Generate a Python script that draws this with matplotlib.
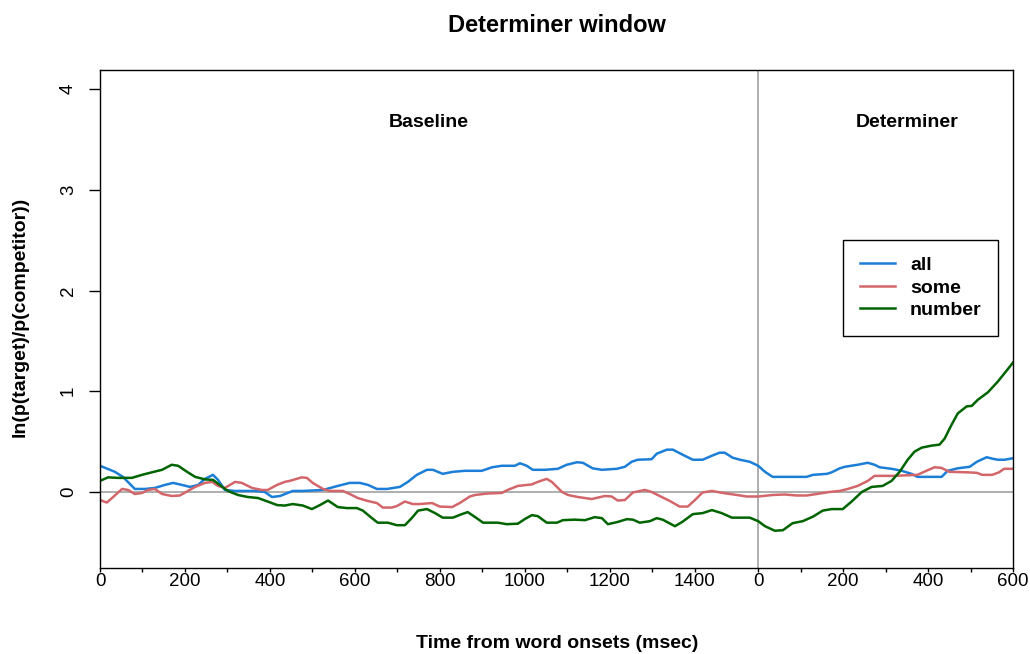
import matplotlib
matplotlib.use("Agg")
import matplotlib.pyplot as plt
import numpy as np

plt.rcParams["font.family"] = ["Liberation Sans", "DejaVu Sans"]

# Length of the baseline window (ms); the determiner window is drawn after it
BASELINE_LEN = 1550
DETERMINER_LEN = 600

# ---- "all" ----
all_base_t = [0, 35, 54, 82, 106, 129, 153, 172, 193, 212, 231, 247, 266, 278, 294, 318,
              365, 388, 405, 424, 454, 478, 525, 560, 588, 612, 631, 652, 676, 706, 725,
              746, 770, 784, 807, 831, 859, 899, 923, 946, 977, 989, 1005, 1019, 1048,
              1078, 1099, 1123, 1137, 1160, 1182, 1217, 1236, 1252, 1266, 1299, 1311,
              1335, 1349, 1372, 1396, 1419, 1441, 1459, 1471, 1490, 1507, 1530, 1550]
all_base_v = [0.26, 0.20, 0.15, 0.03, 0.03, 0.04, 0.07, 0.09, 0.07, 0.05, 0.07, 0.13, 0.17,
              0.12, 0.02, 0.01, 0.01, 0.00, -0.05, -0.04, 0.01, 0.01, 0.02, 0.06, 0.09,
              0.09, 0.07, 0.03, 0.03, 0.05, 0.10, 0.17, 0.22, 0.22, 0.18, 0.20, 0.21,
              0.21, 0.245, 0.26, 0.26, 0.285, 0.26, 0.22, 0.22, 0.23, 0.27, 0.295, 0.29,
              0.235, 0.22, 0.23, 0.25, 0.30, 0.32, 0.325, 0.38, 0.42, 0.42, 0.37, 0.32,
              0.32, 0.36, 0.39, 0.39, 0.34, 0.32, 0.30, 0.26]
all_det_t = [0, 16, 34, 58, 114, 129, 162, 173, 192, 204, 234, 258, 274, 286, 314, 338,
             361, 375, 432, 446, 470, 498, 515, 538, 552, 564, 580, 600]
all_det_v = [0.26, 0.20, 0.15, 0.15, 0.15, 0.17, 0.18, 0.195, 0.235, 0.25, 0.27, 0.29,
             0.27, 0.245, 0.23, 0.21, 0.18, 0.15, 0.15, 0.21, 0.235, 0.25, 0.30, 0.345,
             0.33, 0.32, 0.32, 0.335]

# ---- "some" ----
some_base_t = [0, 16, 31, 52, 66, 82, 99, 113, 129, 146, 169, 188, 207, 224, 247, 264,
               278, 294, 318, 334, 358, 381, 395, 417, 435, 447, 475, 487, 501, 525, 541,
               572, 588, 607, 631, 652, 666, 687, 699, 718, 737, 753, 782, 800, 829, 847,
               871, 883, 913, 946, 960, 984, 1017, 1031, 1052, 1064, 1088, 1102, 1125,
               1158, 1189, 1205, 1219, 1236, 1255, 1283, 1299, 1318, 1342, 1365, 1384,
               1401, 1419, 1441, 1467, 1500, 1523, 1550]
some_base_v = [-0.08, -0.105, -0.05, 0.03, 0.02, -0.02, -0.01, 0.02, 0.03, -0.02, -0.04,
               -0.035, 0.01, 0.05, 0.09, 0.10, 0.06, 0.04, 0.10, 0.09, 0.04, 0.02, 0.02,
               0.07, 0.10, 0.11, 0.145, 0.14, 0.09, 0.03, 0.01, 0.01, -0.02, -0.06, -0.09,
               -0.11, -0.155, -0.155, -0.14, -0.095, -0.12, -0.12, -0.11, -0.145, -0.15,
               -0.11, -0.045, -0.03, -0.015, -0.01, 0.02, 0.06, 0.075, 0.10, 0.13, 0.10,
               0.00, -0.03, -0.05, -0.07, -0.04, -0.045, -0.085, -0.08, -0.005, 0.02,
               0.00, -0.04, -0.09, -0.145, -0.145, -0.08, -0.005, 0.01, -0.01, -0.03,
               -0.045, -0.045]
some_det_t = [0, 34, 62, 91, 114, 138, 168, 192, 211, 234, 258, 274, 321, 375, 396, 415,
              431, 450, 492, 515, 527, 551, 567, 579, 600]
some_det_v = [-0.045, -0.03, -0.025, -0.035, -0.035, -0.02, 0.00, 0.01, 0.03, 0.06, 0.11,
              0.16, 0.16, 0.17, 0.21, 0.245, 0.24, 0.20, 0.195, 0.19, 0.17, 0.17, 0.195,
              0.23, 0.23]

# ---- "number" ----
number_base_t = [0, 19, 42, 75, 99, 122, 146, 169, 184, 205, 224, 247, 266, 282, 301, 325,
                 348, 372, 395, 417, 435, 454, 478, 499, 518, 537, 560, 581, 605, 619,
                 636, 654, 678, 699, 718, 734, 749, 770, 789, 807, 831, 852, 866, 887, 902,
                 937, 958, 984, 1000, 1017, 1031, 1052, 1076, 1090, 1118, 1142, 1165,
                 1182, 1196, 1217, 1241, 1255, 1271, 1295, 1311, 1325, 1354, 1372, 1396,
                 1419, 1441, 1464, 1488, 1530, 1550]
number_base_v = [0.11, 0.145, 0.14, 0.14, 0.17, 0.195, 0.22, 0.27, 0.26, 0.20, 0.15, 0.125,
                 0.12, 0.07, 0.01, -0.03, -0.05, -0.06, -0.095, -0.13, -0.135, -0.12,
                 -0.135, -0.17, -0.13, -0.085, -0.15, -0.16, -0.16, -0.185, -0.245, -0.305,
                 -0.305, -0.33, -0.33, -0.26, -0.185, -0.17, -0.21, -0.255, -0.255, -0.22,
                 -0.20, -0.26, -0.305, -0.305, -0.32, -0.315, -0.27, -0.23, -0.24, -0.305,
                 -0.305, -0.28, -0.275, -0.28, -0.25, -0.26, -0.32, -0.30, -0.27, -0.275,
                 -0.305, -0.29, -0.26, -0.275, -0.34, -0.295, -0.22, -0.21, -0.18, -0.21,
                 -0.255, -0.255, -0.29]
number_det_t = [0, 16, 39, 58, 81, 105, 129, 152, 173, 199, 220, 244, 267, 293, 314, 333,
                352, 368, 385, 408, 427, 439, 455, 470, 491, 503, 517, 541, 564, 585, 600]
number_det_v = [-0.29, -0.34, -0.385, -0.38, -0.31, -0.29, -0.245, -0.185, -0.17, -0.17,
                -0.095, 0.00, 0.05, 0.06, 0.11, 0.20, 0.32, 0.40, 0.44, 0.46, 0.47, 0.53,
                0.665, 0.78, 0.85, 0.855, 0.915, 0.99, 1.095, 1.205, 1.285]

series_names = ["all", "some", "number"]
series_colors = ["#1C7ED6", "#D2666A", "#006400"]

base_tick_labels = ["0", "200", "400", "600", "800", "1000", "1200", "1400"]
det_tick_labels = ["0", "200", "400", "600"]

fig = plt.figure(figsize=(10.3, 6.54), dpi=100)
ax = fig.add_axes([100 / 1030, 1 - 568 / 654, 913 / 1030, 498 / 654])

series = [
    (all_base_t, all_base_v, all_det_t, all_det_v),
    (some_base_t, some_base_v, some_det_t, some_det_v),
    (number_base_t, number_base_v, number_det_t, number_det_v),
]
for (bt, bv, dt, dv), name, col in zip(series, series_names, series_colors):
    x = np.concatenate([np.asarray(bt, float), BASELINE_LEN + np.asarray(dt, float)])
    y = np.concatenate([bv, dv])
    ax.plot(x, y, color=col, lw=1.8, label=name, solid_joinstyle="round")

# reference lines
ax.axhline(0, color="#999999", lw=1.1, zorder=0)
ax.axvline(BASELINE_LEN, color="#999999", lw=1.1, zorder=0)

ax.set_xlim(0, BASELINE_LEN + DETERMINER_LEN)
ax.set_ylim(-0.755, 4.19)

# x ticks: every 100 ms in each window, labels every 200 ms
base_ticks = np.arange(0, 1401, 100)
det_ticks = np.arange(0, DETERMINER_LEN + 1, 100)
ticks = list(base_ticks) + list(BASELINE_LEN + det_ticks)
labels = []
for t in base_ticks:
    labels.append(str(t) if str(t) in base_tick_labels else "")
for t in det_ticks:
    labels.append(str(t) if str(t) in det_tick_labels else "")
ax.set_xticks(ticks)
ax.set_xticklabels(labels)

ax.set_yticks([0, 1, 2, 3, 4])
ax.set_yticklabels(["0", "1", "2", "3", "4"], rotation=90, va="center")

ax.tick_params(axis="both", direction="out", width=1, labelsize=13.5, color="black")
ax.tick_params(axis="x", length=3, pad=0.5)
ax.tick_params(axis="y", length=8, pad=8.5)
for s in ax.spines.values():
    s.set_linewidth(1.0)
    s.set_color("black")

ax.text(BASELINE_LEN / 2, 3.67, "Baseline", ha="center", va="center",
        fontsize=14, fontweight="bold")
ax.text(BASELINE_LEN + 350, 3.67, "Determiner", ha="center", va="center",
        fontsize=14, fontweight="bold")

fig.text(556.5 / 1030, 1 - 25 / 654, "Determiner window", ha="center", va="center",
         fontsize=17, fontweight="bold")
fig.text(557.5 / 1030, 1 - 643 / 654, "Time from word onsets (msec)", ha="center",
         va="center", fontsize=14, fontweight="bold")
fig.text(20 / 1030, 1 - 317 / 654, "ln(p(target)/p(competitor))", ha="center",
         va="center", rotation=90, fontsize=14, fontweight="bold")

leg = ax.legend(loc="upper left", bbox_to_anchor=((843 - 100) / 913, (568 - 240) / 498),
                borderaxespad=0, fancybox=False, frameon=True, framealpha=1,
                edgecolor="black", handlelength=1.8, handletextpad=0.8,
                labelspacing=0.25, borderpad=0.85, prop={"weight": "bold", "size": 14})
leg.get_frame().set_linewidth(1.0)

fig.savefig("out.png", dpi=100)
